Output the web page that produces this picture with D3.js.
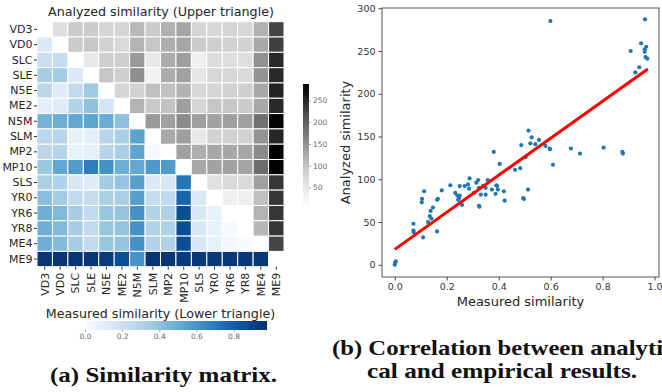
<!DOCTYPE html>
<html>
<head>
<meta charset="utf-8">
<script src="https://cdn.jsdelivr.net/npm/d3@7"></script>
<style>
  body { margin: 0; background: #fff; }
  svg text { font-family: 'DejaVu Sans', sans-serif; fill: #262626; }
  .caption { font-family: 'Liberation Serif', serif; font-weight: bold; font-size: 21px; fill: #111; }
</style>
</head>
<body>
<svg id="fig" width="662" height="392"></svg>
<script>
const labels = ['VD3', 'VD0', 'SLC', 'SLE', 'N5E', 'ME2', 'N5M', 'SLM',
  'MP2', 'MP10', 'SLS', 'YR0', 'YR6', 'YR8', 'ME4', 'ME9'];

// lower triangle: row i holds columns 0..i-1
const measured = [
  [],
  [0.14],
  [0.22, 0.23],
  [0.34, 0.35, 0.14],
  [0.27, 0.12, 0.25, 0.36],
  [0.10, 0.12, 0.30, 0.40, 0.17],
  [0.47, 0.49, 0.52, 0.53, 0.50, 0.41],
  [0.27, 0.29, 0.08, 0.10, 0.29, 0.33, 0.54],
  [0.27, 0.29, 0.07, 0.09, 0.29, 0.33, 0.53, 0.01],
  [0.37, 0.52, 0.57, 0.69, 0.61, 0.49, 0.52, 0.58, 0.57],
  [0.33, 0.31, 0.15, 0.12, 0.35, 0.39, 0.55, 0.14, 0.15, 0.72],
  [0.42, 0.35, 0.25, 0.24, 0.32, 0.33, 0.55, 0.24, 0.25, 0.78, 0.14],
  [0.49, 0.44, 0.34, 0.25, 0.38, 0.39, 0.61, 0.30, 0.31, 0.87, 0.15, 0.08],
  [0.49, 0.44, 0.34, 0.25, 0.38, 0.39, 0.61, 0.30, 0.31, 0.87, 0.15, 0.08, 0.01],
  [0.49, 0.43, 0.34, 0.25, 0.38, 0.39, 0.61, 0.30, 0.31, 0.87, 0.15, 0.08, 0.02, 0.0],
  [0.96, 0.96, 0.96, 0.96, 0.94, 0.87, 0.60, 0.96, 0.96, 0.94, 0.95, 0.95, 0.95, 0.95, 0.95],
];

// upper triangle: row i holds columns i+1..15
const analyzed = [
  [62, 89, 89, 77, 77, 111, 89, 118, 130, 77, 73, 77, 73, 118, 226],
  [89, 94, 81, 71, 116, 96, 120, 129, 89, 86, 81, 81, 127, 229],
  [48, 86, 84, 142, 48, 122, 137, 36, 66, 64, 64, 150, 250],
  [96, 86, 152, 31, 122, 135, 52, 73, 73, 71, 148, 250],
  [77, 81, 102, 102, 116, 73, 77, 81, 84, 127, 254],
  [116, 91, 99, 137, 77, 96, 94, 89, 127, 250],
  [142, 135, 156, 137, 133, 137, 135, 183, 285],
  [126, 137, 48, 81, 81, 81, 148, 252],
  [133, 120, 129, 127, 129, 156, 287],
  [127, 133, 133, 131, 187, 287],
  [61, 71, 71, 135, 239],
  [36, 36, 104, 239],
  [0, 116, 239],
  [113, 239],
  [226],
  [],
];

const blueTicks = [0, 0.2, 0.4, 0.6, 0.8];
const greyTicks = [50, 100, 150, 200, 250];

// scatter: [measured, analyzed]
const points = [
  [0, 0], [0.002, 2.7], [0.004, 3.9],
  [0.072, 48], [0.072, 40], [0.073, 38], [0.109, 32], [0.104, 73], [0.105, 77],
  [0.113, 86], [0.128, 50], [0.135, 57], [0.141, 54], [0.138, 63], [0.147, 67],
  [0.163, 39], [0.163, 76], [0.166, 77], [0.181, 87], [0.214, 93], [0.233, 84],
  [0.241, 81], [0.25, 81], [0.244, 76], [0.248, 78], [0.25, 92], [0.259, 70],
  [0.269, 92], [0.282, 94], [0.288, 101], [0.286, 89], [0.305, 84], [0.314, 96],
  [0.321, 99], [0.324, 90], [0.324, 69], [0.326, 68], [0.331, 82], [0.34, 92],
  [0.35, 90], [0.35, 82], [0.358, 99], [0.374, 88], [0.391, 93], [0.394, 92],
  [0.388, 83], [0.397, 88], [0.42, 86], [0.423, 75], [0.381, 132], [0.404, 118],
  [0.463, 111], [0.483, 113], [0.494, 78], [0.497, 77], [0.504, 126], [0.513, 88],
  [0.487, 140], [0.515, 157], [0.527, 149], [0.522, 142], [0.541, 141],
  [0.555, 146], [0.58, 139], [0.596, 136], [0.598, 135], [0.609, 117],
  [0.678, 136], [0.713, 130], [0.804, 137], [0.876, 132], [0.878, 130],
  [0.599, 285], [0.963, 287], [0.908, 250], [0.948, 259], [0.968, 255],
  [0.962, 252], [0.962, 249], [0.965, 243], [0.972, 241], [0.941, 231], [0.926, 225],
];

// fitted line end points
const fitX = [0, 0.974];
const fitY = [18, 229];

const xTicks = [0, 0.2, 0.4, 0.6, 0.8, 1.0];
const yTicks = [0, 50, 100, 150, 200, 250, 300];

const svg = d3.select('#fig');

// ---------- (a) heatmap ----------
const col = d3.scaleBand().domain(labels).range([37, 284]);
const row = d3.scaleBand().domain(labels).range([21.7, 266.7]);
const blue = d3.scaleSequential(d3.interpolateBlues).domain([0, 0.98]);
const grey = d3.scaleSequential(d3.interpolateGreys).domain([0, 288]);

const cells = [];
labels.forEach((r, i) => {
  labels.forEach((c, j) => {
    if (i > j) cells.push({ r, c, fill: blue(measured[i][j]) });
    else if (i < j) cells.push({ r, c, fill: grey(analyzed[i][j - i - 1]) });
  });
});

svg.append('g')
  .selectAll('rect')
  .data(cells)
  .join('rect')
  .attr('x', (d) => col(d.c))
  .attr('y', (d) => row(d.r))
  .attr('width', col.bandwidth())
  .attr('height', row.bandwidth())
  .attr('fill', (d) => d.fill)
  .attr('stroke', '#fff')
  .attr('stroke-width', 1);

const rowAxis = svg.append('g')
  .attr('transform', 'translate(37,0)')
  .call(d3.axisLeft(row).tickSize(3).tickPadding(1.5));
rowAxis.select('.domain').remove();
rowAxis.selectAll('text').style('font-size', '11px');
rowAxis.selectAll('line').attr('stroke', '#333');

const colAxis = svg.append('g')
  .attr('transform', 'translate(0,266.7)')
  .call(d3.axisBottom(col).tickSize(3));
colAxis.select('.domain').remove();
colAxis.selectAll('line').attr('stroke', '#333');
colAxis.selectAll('text')
  .style('font-size', '11px')
  .attr('transform', 'rotate(-90)')
  .attr('x', -6)
  .attr('y', 0)
  .attr('dy', '0.35em')
  .style('text-anchor', 'end');

svg.append('text')
  .attr('x', 161).attr('y', 16)
  .attr('text-anchor', 'middle')
  .style('font-size', '12.7px')
  .text('Analyzed similarity (Upper triangle)');

svg.append('text')
  .attr('x', 160.5).attr('y', 318)
  .attr('text-anchor', 'middle')
  .style('font-size', '12.7px')
  .text('Measured similarity (Lower triangle)');

// colour bars
const defs = svg.append('defs');
const stops = d3.range(0, 1.001, 0.05);

defs.append('linearGradient')
  .attr('id', 'gBlue')
  .selectAll('stop')
  .data(stops)
  .join('stop')
  .attr('offset', (d) => d)
  .attr('stop-color', (d) => d3.interpolateBlues(d));

defs.append('linearGradient')
  .attr('id', 'gGrey')
  .attr('x1', 0).attr('y1', 1).attr('x2', 0).attr('y2', 0)
  .selectAll('stop')
  .data(stops)
  .join('stop')
  .attr('offset', (d) => d)
  .attr('stop-color', (d) => d3.interpolateGreys(d));

const cbx = d3.scaleLinear().domain([0, 0.98]).range([85, 267]);
svg.append('rect')
  .attr('x', 85).attr('y', 321).attr('width', 182).attr('height', 9)
  .attr('fill', 'url(#gBlue)');
const cbxAxis = svg.append('g')
  .attr('transform', 'translate(0,330)')
  .call(d3.axisBottom(cbx).tickValues(blueTicks).tickFormat(d3.format('.1f')).tickSize(2).tickPadding(2));
cbxAxis.select('.domain').remove();
cbxAxis.selectAll('line').attr('stroke', '#aaa');
cbxAxis.selectAll('text').style('font-size', '7.5px').style('fill', '#666');

const cby = d3.scaleLinear().domain([0, 288]).range([209, 84]);
svg.append('rect')
  .attr('x', 303).attr('y', 84).attr('width', 6).attr('height', 125)
  .attr('fill', 'url(#gGrey)');
const cbyAxis = svg.append('g')
  .attr('transform', 'translate(309,0)')
  .call(d3.axisRight(cby).tickValues(greyTicks).tickSize(2).tickPadding(2));
cbyAxis.select('.domain').remove();
cbyAxis.selectAll('line').attr('stroke', '#aaa');
cbyAxis.selectAll('text').style('font-size', '7.5px').style('fill', '#666');

// ---------- (b) scatter ----------
const x = d3.scaleLinear().domain([-0.049, 1.017]).range([382, 659]);
const y = d3.scaleLinear().domain([-14.3, 300.3]).range([277, 8]);

const xAxis = svg.append('g')
  .attr('transform', 'translate(0,277)')
  .call(d3.axisBottom(x).tickValues(xTicks).tickFormat(d3.format('.1f')).tickSize(3.5).tickPadding(3));
const yAxis = svg.append('g')
  .attr('transform', 'translate(382,0)')
  .call(d3.axisLeft(y).tickValues(yTicks).tickSize(3.5).tickPadding(3));
[xAxis, yAxis].forEach((a) => {
  a.select('.domain').remove();
  a.selectAll('line').attr('stroke', '#444');
  a.selectAll('text').style('font-size', '9.5px').style('fill', '#333');
});

svg.append('rect')
  .attr('x', 382).attr('y', 8).attr('width', 277).attr('height', 269)
  .attr('fill', 'none')
  .attr('stroke', '#555')
  .attr('stroke-width', 1);

svg.append('g')
  .selectAll('circle')
  .data(points)
  .join('circle')
  .attr('cx', (d) => x(d[0]))
  .attr('cy', (d) => y(d[1]))
  .attr('r', 2.1)
  .attr('fill', '#1f77b4');

svg.append('line')
  .attr('x1', x(fitX[0])).attr('y1', y(fitY[0]))
  .attr('x2', x(fitX[1])).attr('y2', y(fitY[1]))
  .attr('stroke', '#ff0000')
  .attr('stroke-width', 3);

svg.append('text')
  .attr('x', 520.5).attr('y', 306)
  .attr('text-anchor', 'middle')
  .style('font-size', '13px')
  .text('Measured similarity');

svg.append('text')
  .attr('transform', 'translate(350,142.5) rotate(-90)')
  .attr('text-anchor', 'middle')
  .style('font-size', '13px')
  .text('Analyzed similarity');

// captions (stretched to the width of the original serif face)
svg.append('text').attr('class', 'caption')
  .attr('x', 50).attr('y', 382)
  .attr('textLength', 227).attr('lengthAdjust', 'spacingAndGlyphs')
  .text('(a) Similarity matrix.');
svg.append('text').attr('class', 'caption')
  .attr('x', 332).attr('y', 355)
  .attr('textLength', 331).attr('lengthAdjust', 'spacingAndGlyphs')
  .text('(b) Correlation between analyti');
svg.append('text').attr('class', 'caption')
  .attr('x', 367).attr('y', 378)
  .attr('textLength', 270).attr('lengthAdjust', 'spacingAndGlyphs')
  .text('cal and empirical results.');
</script>
</body>
</html>
